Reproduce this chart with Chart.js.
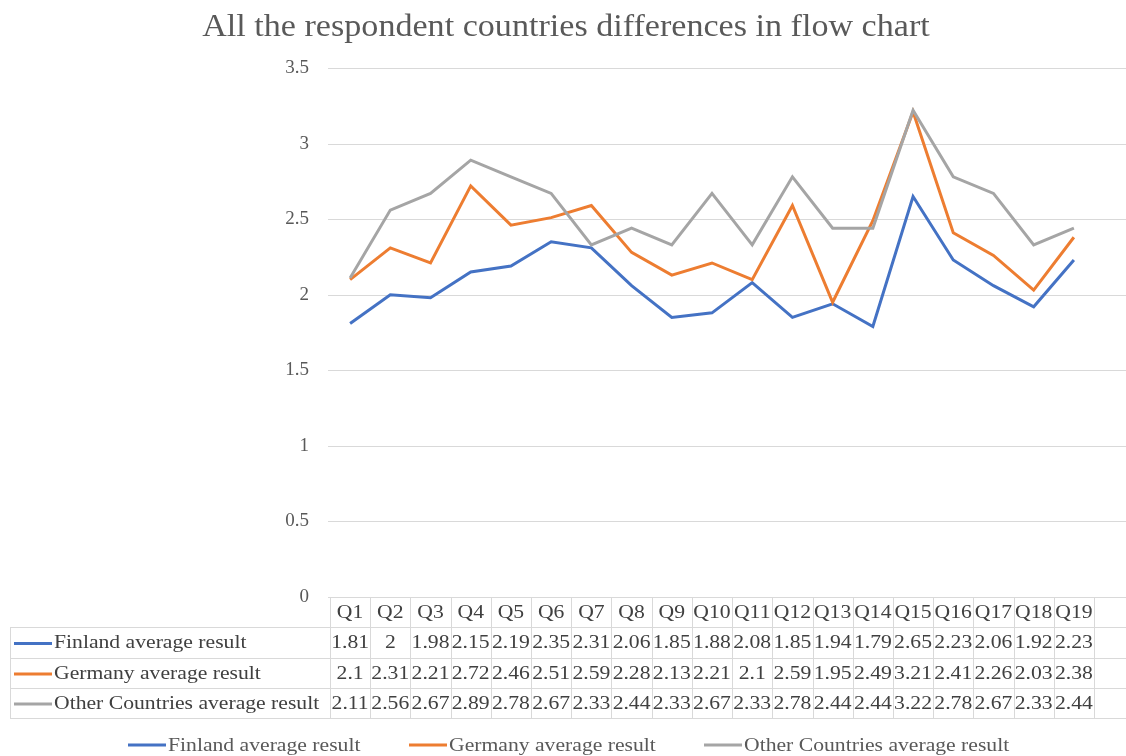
<!DOCTYPE html>
<html>
<head>
<meta charset="utf-8">
<title>All the respondent countries differences in flow chart</title>
<script src="https://cdn.jsdelivr.net/npm/chart.js@4.4.1/dist/chart.umd.min.js"></script>
<style>
  html, body { margin: 0; padding: 0; background: #ffffff; }
  #wrap { width: 1126px; height: 756px; position: relative; }
</style>
</head>
<body>
<div id="wrap"><canvas id="chart" width="1126" height="756"></canvas></div>
<script>
// Question labels along the category axis
const questions = ['Q1','Q2','Q3','Q4','Q5','Q6','Q7','Q8','Q9','Q10','Q11','Q12','Q13','Q14','Q15','Q16','Q17','Q18','Q19'];

// Average results per question
const finland = [1.81, 2, 1.98, 2.15, 2.19, 2.35, 2.31, 2.06, 1.85, 1.88, 2.08, 1.85, 1.94, 1.79, 2.65, 2.23, 2.06, 1.92, 2.23];
const germany = [2.1, 2.31, 2.21, 2.72, 2.46, 2.51, 2.59, 2.28, 2.13, 2.21, 2.1, 2.59, 1.95, 2.49, 3.21, 2.41, 2.26, 2.03, 2.38];
const others  = [2.11, 2.56, 2.67, 2.89, 2.78, 2.67, 2.33, 2.44, 2.33, 2.67, 2.33, 2.78, 2.44, 2.44, 3.22, 2.78, 2.67, 2.33, 2.44];

const seriesNames = ['Finland average result', 'Germany average result', 'Other Countries average result'];
const seriesColors = ['#4472C4', '#ED7D31', '#A5A5A5'];
const seriesData = [finland, germany, others];

const titleText = 'All the respondent countries differences in flow chart';
const FONT = '"Liberation Serif", "Times New Roman", serif';
const TEXT_COLOR = '#595959';
const GRID_COLOR = '#d9d9d9';
const STRETCH = 1.14;   // the serif lettering is set slightly wide

// draws text widened horizontally around its anchor
function wideText(ctx, text, x, y, align, sx) {
  ctx.save();
  ctx.translate(x, y);
  ctx.scale(sx, 1);
  ctx.textAlign = align;
  ctx.fillText(text, 0, 0);
  ctx.restore();
}

// Title, gridlines, data table and legend
const decorations = {
  id: 'decorations',
  beforeDatasetsDraw(chart) {
    const { ctx, chartArea, scales } = chart;
    const y = scales.y;
    ctx.save();
    ctx.strokeStyle = GRID_COLOR;
    ctx.lineWidth = 1;
    // horizontal gridlines run on to the right edge
    y.ticks.forEach(t => {
      const py = Math.round(y.getPixelForValue(t.value)) + 0.5;
      ctx.beginPath();
      ctx.moveTo(chartArea.left - 2, py);
      ctx.lineTo(chart.width, py);
      ctx.stroke();
    });
    ctx.restore();
  },
  afterDraw(chart) {
    const { ctx, chartArea, scales } = chart;
    const x = scales.x;
    ctx.save();

    // title
    ctx.fillStyle = TEXT_COLOR;
    ctx.font = '31px ' + FONT;
    ctx.textBaseline = 'middle';
    wideText(ctx, titleText, chart.width / 2 + 3, 28, 'center', 1.1);

    // data table
    const step = x.getPixelForValue(1) - x.getPixelForValue(0);
    const colLeft = i => x.getPixelForValue(i) - step / 2;
    const top = Math.round(chartArea.bottom);
    const rowTops = [top, top + 30, top + 61, top + 91, top + 121];
    const tableLeft = 10;

    ctx.strokeStyle = GRID_COLOR;
    ctx.lineWidth = 1;
    for (let r = 1; r < rowTops.length; r++) {
      const py = rowTops[r] + 0.5;
      ctx.beginPath();
      ctx.moveTo(tableLeft, py);
      ctx.lineTo(chart.width, py);
      ctx.stroke();
    }
    for (let i = 0; i <= questions.length; i++) {
      const px = Math.round(colLeft(i)) + 0.5;
      ctx.beginPath();
      ctx.moveTo(px, rowTops[0]);
      ctx.lineTo(px, rowTops[4]);
      ctx.stroke();
    }
    ctx.beginPath();
    ctx.moveTo(tableLeft + 0.5, rowTops[1]);
    ctx.lineTo(tableLeft + 0.5, rowTops[4]);
    ctx.stroke();

    ctx.font = '19px ' + FONT;
    ctx.textBaseline = 'middle';
    ctx.fillStyle = '#404040';
    // header row
    questions.forEach((q, i) => {
      wideText(ctx, q, x.getPixelForValue(i), (rowTops[0] + rowTops[1]) / 2 + 1, 'center', STRETCH);
    });
    // series rows
    seriesData.forEach((vals, s) => {
      const cy = (rowTops[s + 1] + rowTops[s + 2]) / 2 + 1;
      ctx.strokeStyle = seriesColors[s];
      ctx.lineWidth = 3;
      ctx.beginPath();
      ctx.moveTo(14, cy);
      ctx.lineTo(52, cy);
      ctx.stroke();
      ctx.fillStyle = '#404040';
      wideText(ctx, seriesNames[s], 54, cy, 'left', STRETCH);
      vals.forEach((v, i) => {
        wideText(ctx, String(v), x.getPixelForValue(i), cy, 'center', STRETCH);
      });
    });

    // legend
    const legendY = 745;
    const legendKeys = [128, 409, 704];
    seriesNames.forEach((name, s) => {
      const lx = legendKeys[s];
      ctx.strokeStyle = seriesColors[s];
      ctx.lineWidth = 3;
      ctx.beginPath();
      ctx.moveTo(lx, legendY);
      ctx.lineTo(lx + 38, legendY);
      ctx.stroke();
      ctx.fillStyle = TEXT_COLOR;
      wideText(ctx, name, lx + 40, legendY + 1, 'left', STRETCH);
    });

    ctx.restore();
  }
};

new Chart(document.getElementById('chart'), {
  type: 'line',
  data: {
    labels: questions,
    datasets: seriesData.map((vals, s) => ({
      label: seriesNames[s],
      data: vals,
      borderColor: seriesColors[s],
      backgroundColor: seriesColors[s],
      borderWidth: 3,
      pointRadius: 0,
      tension: 0,
      fill: false,
      order: 2 - s
    }))
  },
  options: {
    responsive: false,
    animation: false,
    devicePixelRatio: 1,
    layout: { padding: { top: 68, bottom: 159, left: 0, right: 32 } },
    plugins: {
      legend: { display: false },
      title: { display: false },
      tooltip: { enabled: false }
    },
    scales: {
      x: {
        type: 'category',
        offset: true,
        display: false,
        grid: { display: false }
      },
      y: {
        min: 0,
        max: 3.5,
        ticks: {
          stepSize: 0.5,
          padding: 21,
          color: TEXT_COLOR,
          font: { family: FONT, size: 19 },
          callback: v => String(v)
        },
        grid: { display: false, drawTicks: false },
        border: { display: false },
        afterFit(scale) { scale.width = 330; }
      }
    }
  },
  plugins: [decorations]
});
</script>
</body>
</html>
